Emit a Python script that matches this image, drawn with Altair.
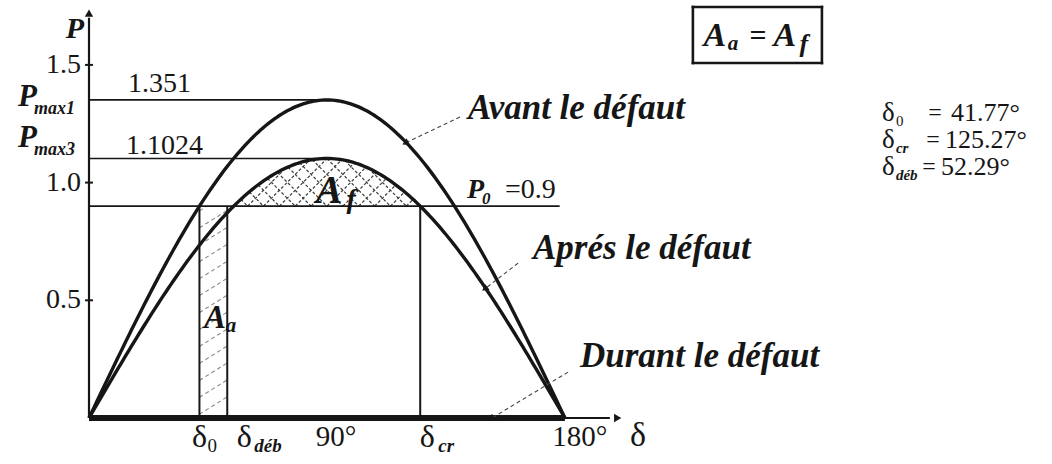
import math
import altair as alt
import pandas as pd

# ---- values (power-angle diagram) ----
PMAX_BEFORE = 1.351      # avant le défaut
PMAX_AFTER = 1.1024      # après le défaut
PMAX_DURING = 0.0        # durant le défaut (curve lies on the axis)
P0 = 0.9
DELTA_0 = 41.77
DELTA_CR = 125.27
DELTA_DEB = 52.29
DELTA_GRID = list(range(0, 181))
Y_TICKS = [0.5, 1.0, 1.5]
Y_TICK_LABELS = ["0.5", "1.0", "1.5"]

# ---- layout ----
W, H = 1052, 464
X_ORIGIN, Y_ORIGIN = 89, 418
PX_PER_DEG = 2.644
PX_PER_P = 235.4
X_DOMAIN = [-X_ORIGIN / PX_PER_DEG, (W - X_ORIGIN) / PX_PER_DEG]
Y_DOMAIN = [-(H - Y_ORIGIN) / PX_PER_P, Y_ORIGIN / PX_PER_P]
SERIF = "Liberation Serif"
INK = "#161616"

xs = alt.Scale(domain=X_DOMAIN, nice=False, zero=False)
ys = alt.Scale(domain=Y_DOMAIN, nice=False, zero=False)


def X(f):
    return alt.X(f, type="quantitative", scale=xs, axis=None)


def Y(f):
    return alt.Y(f, type="quantitative", scale=ys, axis=None)


def pmax_curve(pmax, name):
    return pd.DataFrame({
        "d": DELTA_GRID,
        "p": [pmax * math.sin(math.radians(d)) for d in DELTA_GRID],
        "curve": name,
    })


def line(df, width, color=INK, dash=None):
    kw = dict(strokeWidth=width, color=color)
    if dash:
        kw["strokeDash"] = dash
    return alt.Chart(df).mark_line(**kw).encode(x=X("d"), y=Y("p"), detail="curve:N")


def segs(rows, width, color=INK, dash=None, cap="butt"):
    df = pd.DataFrame(rows, columns=["x", "y", "x2", "y2"])
    kw = dict(strokeWidth=width, color=color, strokeCap=cap)
    if dash:
        kw["strokeDash"] = dash
    return alt.Chart(df).mark_rule(**kw).encode(
        x=X("x"), y=Y("y"), x2="x2:Q", y2="y2:Q")


def label(x, y, text, size=28, style="normal", weight="normal", align="center",
          dx=0, dy=0, font=SERIF, color=INK):
    df = pd.DataFrame({"x": [x], "y": [y], "t": [text]})
    return alt.Chart(df).mark_text(
        font=font, fontSize=size, fontStyle=style, fontWeight=weight,
        align=align, baseline="middle", dx=dx, dy=dy, color=color,
    ).encode(x=X("x"), y=Y("y"), text="t:N")


def arrowhead(x, y, from_x, from_y, size=60, color=INK):
    sx = (x - from_x) * PX_PER_DEG
    sy = -(y - from_y) * PX_PER_P
    ang = math.degrees(math.atan2(sx, -sy)) % 360
    df = pd.DataFrame({"x": [x], "y": [y]})
    return alt.Chart(df).mark_point(
        shape="triangle", filled=True, size=size, angle=ang, color=color, opacity=1,
    ).encode(x=X("x"), y=Y("y"))


def hatch(inside, lines, lo, hi, step=0.05):
    """Clip straight lines p = a + s*d to a convex region."""
    out = []
    n = int((hi - lo) / step)
    for a, s in lines:
        pts = [(lo + i * step, a + s * (lo + i * step)) for i in range(n + 1)]
        pts = [pt for pt in pts if inside(*pt)]
        if len(pts) > 1:
            out.append((pts[0][0], pts[0][1], pts[-1][0], pts[-1][1]))
    return out


layers = []

# crosshatched area A_f (between the post-fault curve and P0)
k45 = PX_PER_DEG / PX_PER_P
af_lines = []
for c in range(30, 150, 6):
    af_lines.append((P0 - k45 * c, k45))
    af_lines.append((P0 + k45 * c, -k45))
af_in = lambda d, p: P0 <= p <= PMAX_AFTER * math.sin(math.radians(d))
layers.append(segs(hatch(af_in, af_lines, 45, 135), 1.2, "#3c3c3c", [3, 2]))

# hatched area A_a (between delta_0 and delta_deb)
s_a = math.tan(math.radians(32)) * PX_PER_DEG / PX_PER_P
aa_lines = [(b - s_a * DELTA_0, s_a) for b in [-0.2 + 0.072 * i for i in range(16)]]
aa_in = lambda d, p: DELTA_0 <= d <= DELTA_DEB and 0 <= p <= P0
layers.append(segs(hatch(aa_in, aa_lines, DELTA_0 - 1, DELTA_DEB + 1), 1.1, "#8a8a8a", [4, 3]))

# reference lines
layers.append(segs([
    (0, PMAX_BEFORE, 90, PMAX_BEFORE),
    (0, PMAX_AFTER, 90, PMAX_AFTER),
    (0, P0, 178, P0),
], 1.7))
layers.append(segs([
    (DELTA_0, 0, DELTA_0, P0),
    (DELTA_DEB, 0, DELTA_DEB, P0),
    (DELTA_CR, 0, DELTA_CR, P0),
], 2))

# axes
layers.append(segs([(0, 0, 0, 1.70), (0, 0, 197, 0)], 2.2))
layers.append(segs([(-1.5, t, 1.5, t) for t in Y_TICKS], 2))
layers.append(arrowhead(0, 1.715, 0, 1.0, size=70))
layers.append(arrowhead(199.5, 0, 150, 0, size=70))

# power-angle curves
layers.append(line(pmax_curve(PMAX_BEFORE, "avant"), 3.4))
layers.append(line(pmax_curve(PMAX_AFTER, "apres"), 3.4))
layers.append(line(pmax_curve(PMAX_DURING, "durant"), 6))

# leader lines to the curve names
leaders = [
    ((140.3, 1.279), (120.0, PMAX_BEFORE * math.sin(math.radians(120)))),
    ((162.3, 0.658), (150.0, PMAX_AFTER * math.sin(math.radians(150)))),
    ((181.2, 0.195), (152.4, 0.0)),
]
layers.append(segs([(a[0], a[1], b[0], b[1]) for a, b in leaders], 1.1, "#444", [4, 3]))
for a, b in leaders:
    layers.append(arrowhead(b[0], b[1], a[0], a[1], size=55))

# y tick labels and axis titles
for t, s in zip(Y_TICKS, Y_TICK_LABELS):
    layers.append(label(-3.0, t, s, size=28, align="right"))
layers.append(label(-5.3, 1.652, "P", size=30, style="italic", weight="bold"))
layers.append(label(-26.9, 1.364, "P", size=31, style="italic", weight="bold", align="left"))
layers.append(label(-26.9, 1.364, "max1", size=18, style="italic", weight="bold", align="left", dx=16, dy=12))
layers.append(label(-26.9, 1.189, "P", size=31, style="italic", weight="bold", align="left"))
layers.append(label(-26.9, 1.189, "max3", size=18, style="italic", weight="bold", align="left", dx=16, dy=12))
layers.append(label(14.75, 1.419, "1.351", size=28, align="left"))
layers.append(label(14.0, 1.155, "1.1024", size=28, align="left"))

# x tick labels
yb = -0.081
layers.append(label(DELTA_0, yb, "δ", size=32))
layers.append(label(DELTA_0, yb, "0", size=19, align="left", dx=8, dy=9))
layers.append(label(DELTA_DEB, yb, "δ", size=32, dx=17))
layers.append(label(DELTA_DEB, yb, "déb", size=19, style="italic", weight="bold", align="left", dx=27, dy=9))
layers.append(label(90, yb, "90°", size=29, dx=9))
layers.append(label(DELTA_CR, yb, "δ", size=32, dx=7))
layers.append(label(DELTA_CR, yb, "cr", size=19, style="italic", weight="bold", align="left", dx=18, dy=9))
layers.append(label(180, yb, "180°", size=29, dx=15))
layers.append(label(207.6, -0.076, "δ", size=34))

# P0 label
layers.append(label(142.96, 0.969, "P", size=28, style="italic", weight="bold", align="left"))
layers.append(label(142.96, 0.969, "0", size=17, style="italic", weight="bold", align="left", dx=15, dy=9))
layers.append(label(142.96, 0.969, "=0.9", size=28, align="left", dx=38))

# area labels
layers.append(label(90.8, 0.964, "A", size=40, style="italic", weight="bold"))
layers.append(label(90.8, 0.964, "f", size=28, style="italic", weight="bold", dx=22, dy=9))
layers.append(label(47.7, 0.425, "A", size=33, style="italic", weight="bold"))
layers.append(label(47.7, 0.425, "a", size=21, style="italic", weight="bold", dx=16, dy=8))

# curve names
layers.append(label(143.3, 1.317, "Avant le défaut", size=35, style="italic", weight="bold", align="left"))
layers.append(label(167.9, 0.722, "Aprés le défaut", size=35, style="italic", weight="bold", align="left"))
layers.append(label(185.7, 0.263, "Durant le défaut", size=35, style="italic", weight="bold", align="left"))

# boxed equality A_a = A_f
layers.append(segs([
    (228.4, 1.746, 277.2, 1.746), (228.4, 1.508, 277.2, 1.508),
    (228.4, 1.746, 228.4, 1.508), (277.2, 1.746, 277.2, 1.508),
], 2.6, cap="square"))
layers.append(label(253.0, 1.623, "A", size=34, style="italic", weight="bold", dx=-43))
layers.append(label(253.0, 1.623, "a", size=21, style="italic", weight="bold", dx=-25, dy=8))
layers.append(label(253.0, 1.623, "=", size=30, weight="bold", dx=0))
layers.append(label(253.0, 1.623, "A", size=34, style="italic", weight="bold", dx=27))
layers.append(label(253.0, 1.623, "f", size=26, style="italic", weight="bold", dx=46, dy=8))

# numeric results
results = [
    (1.296, "0", "normal", "normal", 53, "41.77°", 69),
    (1.181, "cr", "italic", "bold", 51, "125.27°", 63),
    (1.066, "déb", "italic", "bold", 47, "52.29°", 59),
]
for p, sub, st, wt, eq_dx, val, val_dx in results:
    layers.append(label(299.9, p, "δ", size=27, align="left"))
    layers.append(label(299.9, p, sub, size=15, style=st, weight=wt, align="left", dx=14, dy=8))
    layers.append(label(299.9, p, "=", size=24, dx=eq_dx))
    layers.append(label(299.9, p, val, size=26, align="left", dx=val_dx))

chart = alt.layer(*layers).properties(
    width=W, height=H, padding=0,
    autosize=alt.AutoSizeParams(type="none"),
    background="white",
).configure_view(stroke=None)

chart.save("out.html", embed_options={"renderer": "svg", "actions": False})
